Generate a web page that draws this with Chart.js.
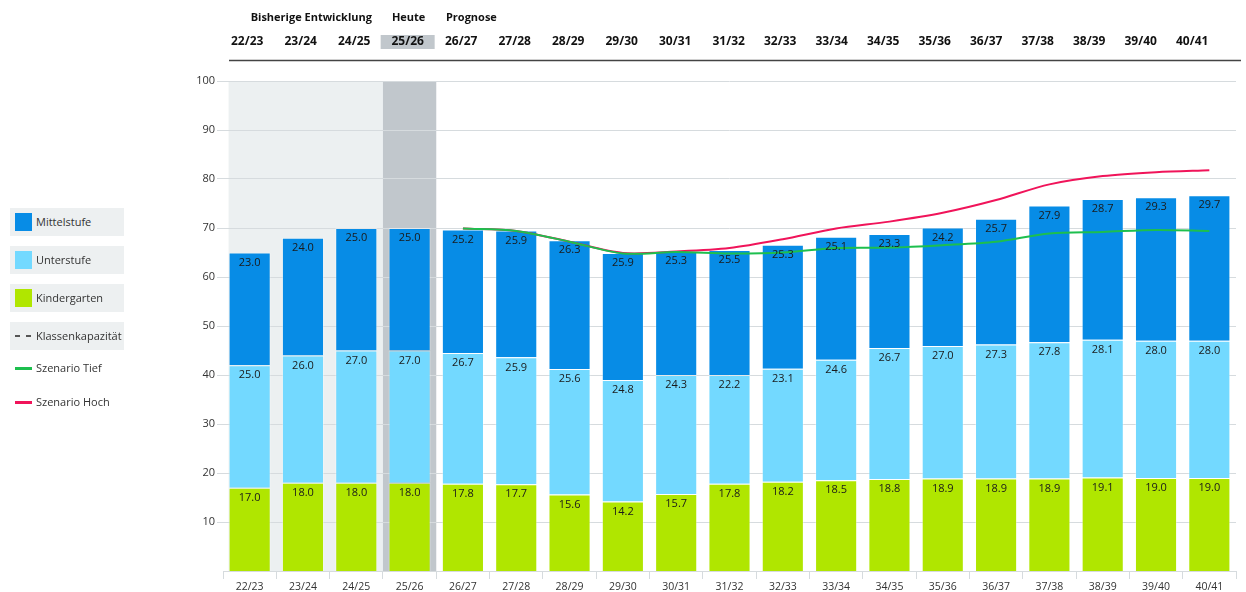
<!DOCTYPE html>
<html>
<head>
<meta charset="utf-8">
<script src="https://cdn.jsdelivr.net/npm/chart.js@4/dist/chart.umd.min.js"></script>
<style>
  html, body { margin: 0; padding: 0; background: #ffffff; }
  #wrap { position: relative; width: 1246px; height: 592px; }
  #c { position: absolute; left: 0; top: 0; }
  #legend { position: absolute; left: 10px; top: 208px; font-family: "Open Sans", sans-serif; font-size: 11px; color: #333; }
  .li { position: relative; width: 114px; height: 28px; margin-bottom: 10px; }
  .li.bg { background: #edf0f1; }
  .sw { position: absolute; left: 5px; }
  .li span.t { position: absolute; left: 26px; top: 6px; line-height: 15px; white-space: nowrap; }
  .li.ln span.t { top: 0px; }
</style>
</head>
<body>
<div id="wrap">
  <canvas id="c" width="1246" height="592"></canvas>
  <div id="legend"></div>
</div>
<script>
// ---- data ----
const categories = ["22/23","23/24","24/25","25/26","26/27","27/28","28/29","29/30","30/31","31/32","32/33","33/34","34/35","35/36","36/37","37/38","38/39","39/40","40/41"];
const kindergarten = [17.0,18.0,18.0,18.0,17.8,17.7,15.6,14.2,15.7,17.8,18.2,18.5,18.8,18.9,18.9,18.9,19.1,19.0,19.0];
const unterstufe   = [25.0,26.0,27.0,27.0,26.7,25.9,25.6,24.8,24.3,22.2,23.1,24.6,26.7,27.0,27.3,27.8,28.1,28.0,28.0];
const mittelstufe  = [23.0,24.0,25.0,25.0,25.2,25.9,26.3,25.9,25.3,25.5,25.3,25.1,23.3,24.2,25.7,27.9,28.7,29.3,29.7];
const szenarioTief = [null,null,null,null,69.9,69.4,67.2,64.8,65.1,64.8,65.0,65.9,66.0,66.5,67.2,68.9,69.2,69.6,69.4];
const szenarioHoch = [null,null,null,null,69.9,69.4,67.2,64.9,65.2,65.9,67.7,69.9,71.3,73.1,75.7,78.9,80.6,81.4,81.8];
const yTicks = [10,20,30,40,50,60,70,80,90,100];
const phaseLabels = ["Bisherige Entwicklung","Heute","Prognose"];
const todayIndex = 3;

// ---- styles ----
const C = {
  mittel: "#078ce6", unter: "#73d9ff", kinder: "#b0e600",
  tief: "#1dbf4e", hoch: "#f0145a",
  pastBg: "#ecf0f1", todayBg: "#c1c7cc", grid: "#d6dbde"
};

// legend (HTML)
const legendItems = [
  {name:"Mittelstufe", type:"box", color:C.mittel, bg:true},
  {name:"Unterstufe", type:"box", color:C.unter, bg:true},
  {name:"Kindergarten", type:"box", color:C.kinder, bg:true},
  {name:"Klassenkapazität", type:"dash", color:"#555", bg:true},
  {name:"Szenario Tief", type:"line", color:C.tief, bg:false},
  {name:"Szenario Hoch", type:"line", color:C.hoch, bg:false}
];
const lg = document.getElementById('legend');
legendItems.forEach((it, i) => {
  const d = document.createElement('div');
  d.className = 'li' + (it.bg ? ' bg' : '') + (it.type === 'line' ? ' ln' : '');
  if (it.type === 'line') { d.style.height = '24px'; }
  let sw = '';
  if (it.type === 'box') sw = `<div class="sw" style="top:5px;width:17px;height:18px;background:${it.color}"></div>`;
  else if (it.type === 'dash') sw = `<div class="sw" style="top:13px;width:5px;height:2px;background:${it.color}"></div><div class="sw" style="left:16px;top:13px;width:5px;height:2px;background:${it.color}"></div>`;
  else sw = `<div class="sw" style="top:7px;width:17px;height:3px;background:${it.color}"></div>`;
  d.innerHTML = sw + `<span class="t">${it.name}</span>`;
  lg.appendChild(d);
});

const FONT = "'Open Sans', sans-serif";

const bgPlugin = {
  id: 'bgPlugin',
  beforeDraw(chart) {
    const {ctx, chartArea, scales} = chart;
    const x = scales.x;
    const meta = chart.getDatasetMeta(2);
    const bar0 = meta.data[0];
    const left = bar0 ? bar0.x - bar0.width / 2 : chartArea.left;
    const half = (x.getPixelForValue(1) - x.getPixelForValue(0)) / 2;
    const todayL = x.getPixelForValue(todayIndex) - half;
    const todayR = x.getPixelForValue(todayIndex) + half;
    ctx.save();
    ctx.fillStyle = C.pastBg;
    ctx.fillRect(left, chartArea.top, todayL - left, chartArea.bottom - chartArea.top);
    ctx.fillStyle = C.todayBg;
    ctx.fillRect(todayL, chartArea.top, todayR - todayL, chartArea.bottom - chartArea.top);
    ctx.restore();
  },
  afterDraw(chart) {
    const {ctx, chartArea, scales} = chart;
    const x = scales.x;
    ctx.save();
    // phase labels
    ctx.fillStyle = "#111";
    ctx.textBaseline = 'middle';
    ctx.font = "bold 11px " + FONT;
    ctx.textAlign = 'left';
    ctx.fillText(phaseLabels[0], x.getPixelForValue(0) + 1, 18);
    ctx.textAlign = 'center';
    ctx.fillText(phaseLabels[1], x.getPixelForValue(todayIndex) - 1, 18);
    ctx.textAlign = 'left';
    ctx.fillText(phaseLabels[2], x.getPixelForValue(todayIndex + 1) - 17, 18);
    // header columns (table layout: first 10 columns slightly wider)
    const hx = [];
    let pos = x.getPixelForValue(0) - 2.5;
    for (let i = 0; i < categories.length; i++) {
      hx.push(pos);
      pos += (i < 9) ? 53.5 : 51.5;
    }
    ctx.fillStyle = C.todayBg;
    ctx.fillRect(hx[todayIndex] - 27, 35, 54, 14);
    ctx.fillStyle = "#111";
    ctx.font = "bold 12px " + FONT;
    ctx.textAlign = 'center';
    categories.forEach((c, i) => ctx.fillText(c, hx[i], 42));
    // rule under header
    ctx.strokeStyle = "#444";
    ctx.lineWidth = 1.5;
    ctx.beginPath();
    ctx.moveTo(chartArea.left + 6, 60.5);
    ctx.lineTo(chartArea.right + 5, 60.5);
    ctx.stroke();
    ctx.restore();
  },
  afterDatasetsDraw(chart) {
    const {ctx} = chart;
    ctx.save();
    ctx.font = "11px " + FONT;
    ctx.fillStyle = "#1a1a1a";
    ctx.textAlign = 'center';
    ctx.textBaseline = 'middle';
    chart.data.datasets.forEach((ds, di) => {
      if (ds.type !== 'bar') return;
      const meta = chart.getDatasetMeta(di);
      meta.data.forEach((el, i) => {
        const v = ds.data[i];
        if (v == null) return;
        ctx.fillText(v.toFixed(1), el.x, el.y + 10);
      });
    });
    ctx.restore();
  }
};

new Chart(document.getElementById('c'), {
  type: 'bar',
  data: {
    labels: categories,
    datasets: [
      {type:'line', label:'Szenario Tief', data: szenarioTief, borderColor: C.tief, borderWidth: 2, pointRadius: 0, tension: 0.3, stack:'tief', order: 0, fill:false},
      {type:'line', label:'Szenario Hoch', data: szenarioHoch, borderColor: C.hoch, borderWidth: 2, pointRadius: 0, tension: 0.3, stack:'hoch', order: 1, fill:false},
      {type:'bar', label:'Kindergarten', data: kindergarten, backgroundColor: C.kinder, borderColor: 'rgba(255,255,255,0.35)', borderWidth: 1, stack:'s', order: 2, barPercentage: 0.79, categoryPercentage: 1},
      {type:'bar', label:'Unterstufe', data: unterstufe, backgroundColor: C.unter, borderColor: 'rgba(255,255,255,0.35)', borderWidth: 1, stack:'s', order: 2, barPercentage: 0.79, categoryPercentage: 1},
      {type:'bar', label:'Mittelstufe', data: mittelstufe, backgroundColor: C.mittel, borderColor: 'rgba(255,255,255,0.35)', borderWidth: 1, stack:'s', order: 2, barPercentage: 0.79, categoryPercentage: 1}
    ]
  },
  options: {
    responsive: false,
    animation: false,
    layout: { padding: { top: 81, right: 10, left: 0, bottom: 0 } },
    plugins: { legend: { display: false }, tooltip: { enabled: false } },
    scales: {
      x: {
        stacked: true,
        offset: true,
        grid: { drawOnChartArea: false, drawTicks: true, tickLength: 8, color: C.grid, offset: true },
        border: { color: C.grid },
        ticks: { font: { family: FONT, size: 10.5 }, color: '#333', padding: 2, maxRotation: 0, autoSkip: false },
        afterFit(s) { s.height = 21; }
      },
      y: {
        stacked: true,
        min: 0, max: 100,
        afterBuildTicks(s) { s.ticks = yTicks.map(v => ({value: v})); },
        grid: { color: C.grid, tickLength: 6 },
        border: { display: false },
        ticks: { font: { family: FONT, size: 11 }, color: '#333', padding: 2 },
        afterFit(s) { s.width = 223; }
      }
    }
  },
  plugins: [bgPlugin]
});
</script>
</body>
</html>
